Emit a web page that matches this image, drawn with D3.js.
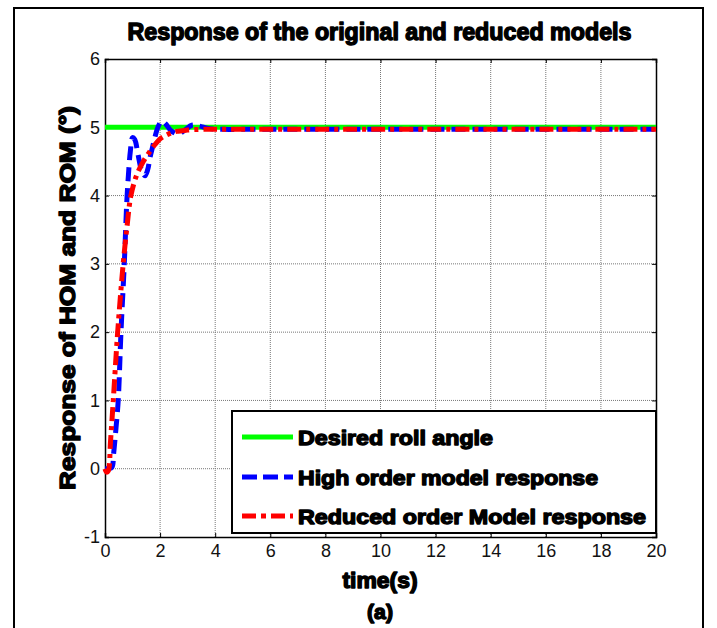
<!DOCTYPE html>
<html><head><meta charset="utf-8">
<script src="https://cdn.jsdelivr.net/npm/d3@7/dist/d3.min.js"></script>
<style>body{margin:0;background:#fff}svg{display:block}</style>
</head><body>
<script>
// ---- data ----
const xTicks = [0,2,4,6,8,10,12,14,16,18,20];
const yTicks = [-1,0,1,2,3,4,5,6];
const desiredT = [0, 20];
const desiredV = [5, 5];
const highT = [0, 0.15, 0.25, 0.32, 0.40, 0.48, 0.58, 0.70, 0.79, 0.85, 0.92, 1.0, 1.08, 1.2, 1.32, 1.45, 1.55, 1.63, 1.72, 1.81, 1.92, 2.06, 2.2, 2.4, 2.66, 2.9, 3.15, 3.4, 3.8, 4.3, 5, 20];
const highV = [0, 0, 0.02, 0.25, 0.6, 1.0, 2.0, 3.0, 3.9, 4.3, 4.65, 4.85, 4.82, 4.6, 4.38, 4.29, 4.38, 4.55, 4.7, 4.85, 5.0, 5.09, 5.05, 4.95, 4.90, 4.96, 5.03, 5.02, 4.98, 4.97, 4.97, 4.97];
const reducedT = [0, 0.06, 0.12, 0.2, 0.30, 0.46, 0.66, 0.80, 0.94, 1.15, 1.39, 1.6, 1.8, 2.0, 2.2, 2.42, 2.6, 2.8, 3.0, 3.5, 4, 20];
const reducedV = [0, -0.05, -0.03, 0.4, 1.0, 2.0, 3.0, 3.55, 4.0, 4.3, 4.5, 4.63, 4.74, 4.83, 4.88, 4.92, 4.94, 4.95, 4.96, 4.97, 4.97, 4.97];
const legendLabels = ["Desired roll angle", "High order model response", "Reduced order Model response"];

const W = 717, H = 628;
const svg = d3.select("body").append("svg").attr("width", W).attr("height", H);

// outer frame
svg.append("path").attr("d", "M14,628 L14,8 L703,8 L703,628")
  .attr("fill","none").attr("stroke","#000").attr("stroke-width",2);

const x = d3.scaleLinear().domain([0,20]).range([105,656]);
const y = d3.scaleLinear().domain([-1,6]).range([537,59]);

// grid
const g = svg.append("g");
g.selectAll(".gx").data(xTicks.slice(1,-1)).enter().append("line")
  .attr("x1", d=>x(d)).attr("x2", d=>x(d)).attr("y1", y(-1)).attr("y2", y(6))
  .attr("stroke","#777").attr("stroke-width",1).attr("stroke-dasharray","1,1");
g.selectAll(".gy").data(yTicks.slice(1,-1)).enter().append("line")
  .attr("y1", d=>y(d)).attr("y2", d=>y(d)).attr("x1", x(0)).attr("x2", x(20))
  .attr("stroke","#777").attr("stroke-width",1).attr("stroke-dasharray","1,1");

// axes
const fontTick = "'Liberation Sans Narrow','Liberation Sans',Arial,sans-serif";
const fmt = d => String(d);
const xAxis = d3.axisBottom(x).tickValues(xTicks).tickSize(-4).tickPadding(7).tickFormat(fmt);
const yAxis = d3.axisLeft(y).tickValues(yTicks).tickSize(-4).tickPadding(5).tickFormat(fmt);
const xa = svg.append("g").attr("transform",`translate(0,${y(-1)})`).call(xAxis);
const ya = svg.append("g").attr("transform",`translate(${x(0)},0)`).call(yAxis);
const xa2 = svg.append("g").attr("transform",`translate(0,${y(6)})`).call(d3.axisTop(x).tickValues(xTicks).tickSize(-4).tickFormat(""));
const ya2 = svg.append("g").attr("transform",`translate(${x(20)},0)`).call(d3.axisRight(y).tickValues(yTicks).tickSize(-4).tickFormat(""));
[xa,ya,xa2,ya2].forEach(a=>{
  a.select(".domain").attr("stroke","#000").attr("stroke-width",1.5);
  a.selectAll(".tick line").attr("stroke","#000");
  a.selectAll("text").attr("font-family",fontTick).attr("font-size",18).attr("fill","#111");
});

// lines
const line = d3.line().x(d=>x(d[0])).y(d=>y(d[1]));
const lineC = d3.line().x(d=>x(d[0])).y(d=>y(d[1])).curve(d3.curveCatmullRom.alpha(0.5));
svg.append("path").attr("d", line(d3.zip(desiredT, desiredV)))
  .attr("fill","none").attr("stroke","#00ff00").attr("stroke-width",5);
svg.append("path").attr("d", lineC(d3.zip(highT, highV)))
  .attr("fill","none").attr("stroke","#0000ff").attr("stroke-width",5)
  .attr("stroke-dasharray","14,7");
svg.append("path").attr("d", lineC(d3.zip(reducedT, reducedV)))
  .attr("fill","none").attr("stroke","#ff0000").attr("stroke-width",5)
  .attr("stroke-dasharray","14,5,4,5");

// text helpers
const boldFont = "'Liberation Sans',Arial,sans-serif";
function heavy(sel, sw){ return sel.attr("font-family",boldFont).attr("font-weight","bold")
  .attr("stroke","#000").attr("stroke-width",sw||1.4).attr("stroke-linejoin","round").attr("fill","#000"); }

// title
heavy(svg.append("text").attr("x",379.5).attr("y",40).attr("text-anchor","middle")
  .attr("font-size",23).attr("textLength",504).attr("lengthAdjust","spacingAndGlyphs")
  .text("Response of the original and reduced models"));
// x label
heavy(svg.append("text").attr("x",380).attr("y",588).attr("text-anchor","middle")
  .attr("font-size",22).attr("textLength",75).attr("lengthAdjust","spacingAndGlyphs")
  .text("time(s)"));
heavy(svg.append("text").attr("x",380).attr("y",619).attr("text-anchor","middle")
  .attr("font-size",21).attr("textLength",26).attr("lengthAdjust","spacingAndGlyphs").text("(a)"));
// y label
heavy(svg.append("text").attr("transform","translate(75,298) rotate(-90)").attr("text-anchor","middle")
  .attr("font-size",22).attr("textLength",384).attr("lengthAdjust","spacingAndGlyphs")
  .text("Response of HOM and ROM (°)"));

// legend
const lg = svg.append("g");
lg.append("rect").attr("x",232).attr("y",411).attr("width",424).attr("height",122)
  .attr("fill","#fff").attr("stroke","#000").attr("stroke-width",2);
const legY = [437,477,516];
const legStyles = [
  {c:"#00ff00", dash:null},
  {c:"#0000ff", dash:"15,6"},
  {c:"#ff0000", dash:"14,5,5,5"}
];
const legW = [195, 300, 348];
legendLabels.forEach((t,i)=>{
  lg.append("line").attr("x1",242).attr("x2",293).attr("y1",legY[i]).attr("y2",legY[i])
    .attr("stroke",legStyles[i].c).attr("stroke-width",5)
    .attr("stroke-dasharray",legStyles[i].dash);
  heavy(lg.append("text").attr("x",298).attr("y",legY[i]+8).attr("font-size",21)
    .attr("textLength",legW[i]).attr("lengthAdjust","spacingAndGlyphs").text(t));
});
</script>
</body></html>
